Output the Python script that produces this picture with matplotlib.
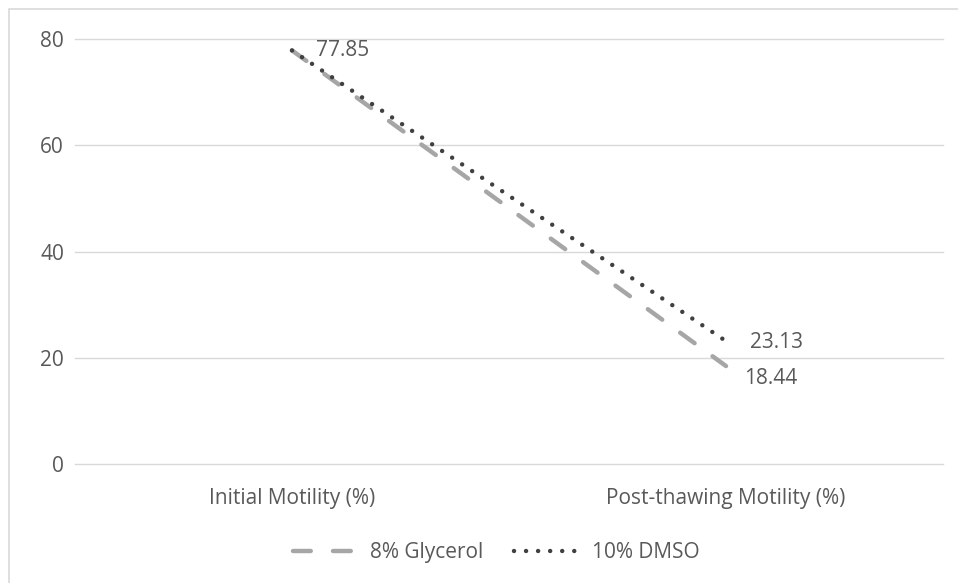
import matplotlib
matplotlib.use("Agg")
import matplotlib.pyplot as plt
from matplotlib.patches import Rectangle

categories = ["Initial Motility (%)", "Post-thawing Motility (%)"]
glycerol = [77.85, 18.44]
dmso = [77.85, 23.13]
yticks = [0, 20, 40, 60, 80]

plt.rcParams['font.family'] = ['Open Sans', 'DejaVu Sans']
txt = '#595959'
fs = 15

fig = plt.figure(figsize=(9.58, 5.83), dpi=100)
ax = fig.add_axes([75/958, 1-464/583, (943-75)/958, (464-39)/583])

# outer chart border (top and left visible)
fig.patches.append(Rectangle((9/958, -0.1), 1.2, 1 - 9/583 + 0.1, transform=fig.transFigure,
                             fill=False, edgecolor='#d9d9d9', linewidth=1.2))

x = [0, 1]
ax.plot(x, glycerol, color='#a6a6a6', linewidth=3.2, linestyle=(0, (4, 5)),
        dash_capstyle='round', label='8% Glycerol', zorder=3)
ax.plot(x, dmso, color='#404040', linewidth=3.2, linestyle=(0, (0.01, 2.7)),
        dash_capstyle='round', label='10% DMSO', zorder=4)

ax.set_xlim(-0.5, 1.5)
ax.set_ylim(0, 80)
ax.set_yticks(yticks)
ax.set_xticks(x)
ax.set_xticklabels(categories)
ax.grid(axis='y', color='#d9d9d9', linewidth=1)
for gl in ax.get_ygridlines():
    gl.set_clip_on(False)
ax.set_axisbelow(True)
for s in ax.spines.values():
    s.set_visible(False)
ax.tick_params(axis='both', length=0, colors=txt, labelsize=fs)
ax.tick_params(axis='y', pad=8)
ax.tick_params(axis='x', pad=17)

ax.annotate(f"{dmso[0]:.2f}", (x[0], dmso[0]), xytext=(17, 0), textcoords='offset points',
            ha='left', va='center', color=txt, fontsize=fs)
ax.annotate(f"{dmso[1]:.2f}", (x[1], dmso[1]), xytext=(17, -1), textcoords='offset points',
            ha='left', va='center', color=txt, fontsize=fs)
ax.annotate(f"{glycerol[1]:.2f}", (x[1], glycerol[1]), xytext=(13, -9), textcoords='offset points',
            ha='left', va='center', color=txt, fontsize=fs)

leg = ax.legend(loc='upper center', bbox_to_anchor=(0.485, -0.14), ncol=2, frameon=False,
                fontsize=fs, handlelength=3.0, columnspacing=1.5, handletextpad=0.7)
for t in leg.get_texts():
    t.set_color(txt)

fig.savefig("out.png", dpi=100)
